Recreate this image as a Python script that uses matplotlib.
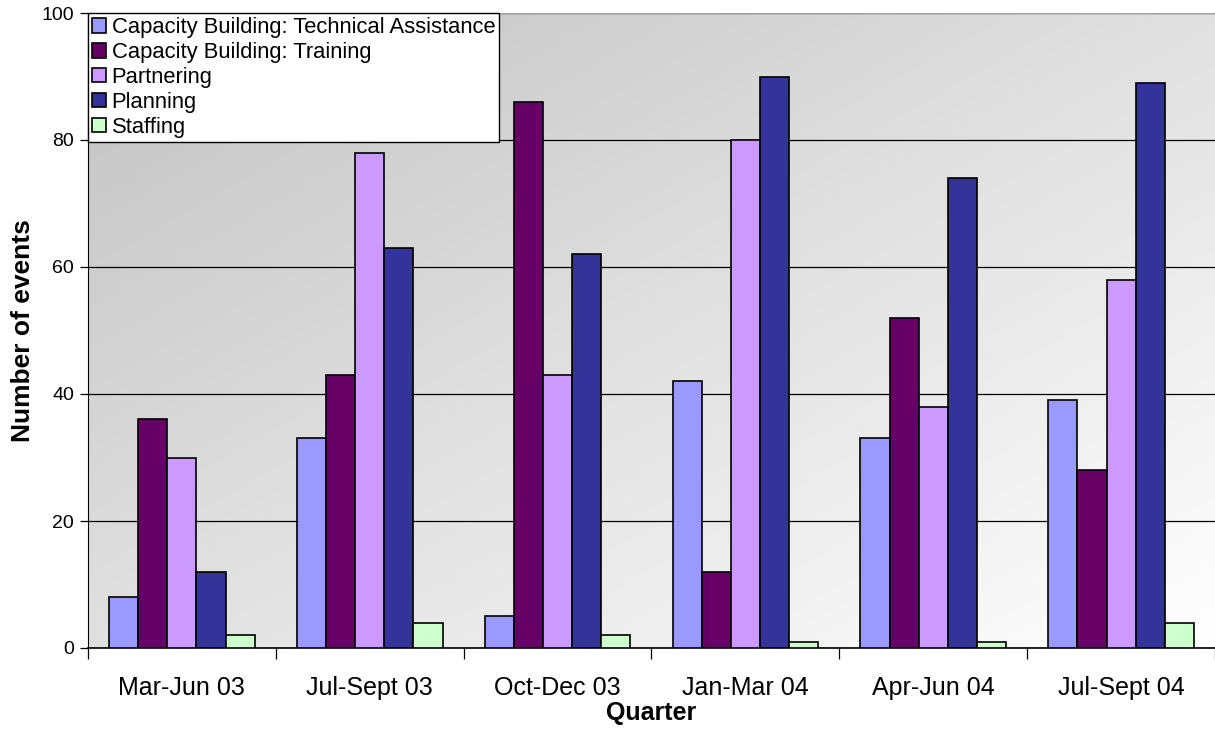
import numpy as np
import matplotlib.pyplot as plt
from matplotlib.colors import LinearSegmentedColormap

plt.rcParams['font.family'] = ['Liberation Sans', 'DejaVu Sans']

quarters = ["Mar-Jun 03", "Jul-Sept 03", "Oct-Dec 03", "Jan-Mar 04", "Apr-Jun 04", "Jul-Sept 04"]
series = ["Capacity Building: Technical Assistance", "Capacity Building: Training",
          "Partnering", "Planning", "Staffing"]
tech_assist = [8, 33, 5, 42, 33, 39]
training = [36, 43, 86, 12, 52, 28]
partnering = [30, 78, 43, 80, 38, 58]
planning = [12, 63, 62, 90, 74, 89]
staffing = [2, 4, 2, 1, 1, 4]
colors = ["#9999FF", "#660066", "#CC99FF", "#333399", "#CCFFCC"]

values = [tech_assist, training, partnering, planning, staffing]

fig = plt.figure(figsize=(12.15, 7.36), dpi=100)
ax = fig.add_axes([88 / 1215, 88 / 736, 1127 / 1215, 635 / 736])

# diagonal grey-to-white fill behind the bars
gx, gy = np.meshgrid(np.linspace(0, 1, 300), np.linspace(0, 1, 300))
t = (gx + gy) / 2
bg = LinearSegmentedColormap.from_list("bg", ["#c2c2c2", "#ffffff"])
ax.imshow(t, cmap=bg, extent=[0, 1, 0, 1], transform=ax.transAxes,
          aspect="auto", zorder=0, origin="upper", interpolation="bilinear")

n = len(series)
x = np.arange(len(quarters))
w = 0.155
for i, (name, vals, c) in enumerate(zip(series, values, colors)):
    ax.bar(x + (i - (n - 1) / 2) * w, vals, w, color=c, edgecolor="black",
           linewidth=1.2, label=name, zorder=3)

ax.set_xlim(-0.5, len(quarters) - 0.5)
ax.set_ylim(0, 100)
ax.set_yticks(range(0, 101, 20))
ax.yaxis.grid(True, color="black", linewidth=0.9, zorder=1)
ax.set_axisbelow(True)

ax.set_xticks(x)
ax.set_xticklabels(quarters, fontsize=18)
ax.tick_params(axis="x", length=0, pad=20)
ax.set_xticks(np.arange(-0.5, len(quarters)), minor=True)
ax.tick_params(axis="x", which="minor", length=8, width=0.9, direction="out")
ax.tick_params(axis="y", labelsize=14, length=6, width=0.9, direction="out", pad=4)

for side in ["top", "right"]:
    ax.spines[side].set_visible(False)
ax.spines["left"].set_color("black")
ax.spines["bottom"].set_linewidth(1.2)
ax.axhline(100, color="#a0a0a0", linewidth=1.5, zorder=4)

ax.set_xlabel("Quarter", fontsize=18, fontweight="bold", labelpad=1)
ax.set_ylabel("Number of events", fontsize=19, fontweight="bold", labelpad=5)

leg = ax.legend(loc="upper left", bbox_to_anchor=(0, 1), fontsize=15.8,
                frameon=True, fancybox=False, borderaxespad=0, handlelength=0.65,
                handleheight=0.65, handletextpad=0.25, labelspacing=0.18,
                borderpad=0.18)
leg.get_frame().set_edgecolor("black")
leg.get_frame().set_linewidth(1.0)
leg.get_frame().set_alpha(1)
leg.set_zorder(5)

plt.savefig("out.png", dpi=100)
